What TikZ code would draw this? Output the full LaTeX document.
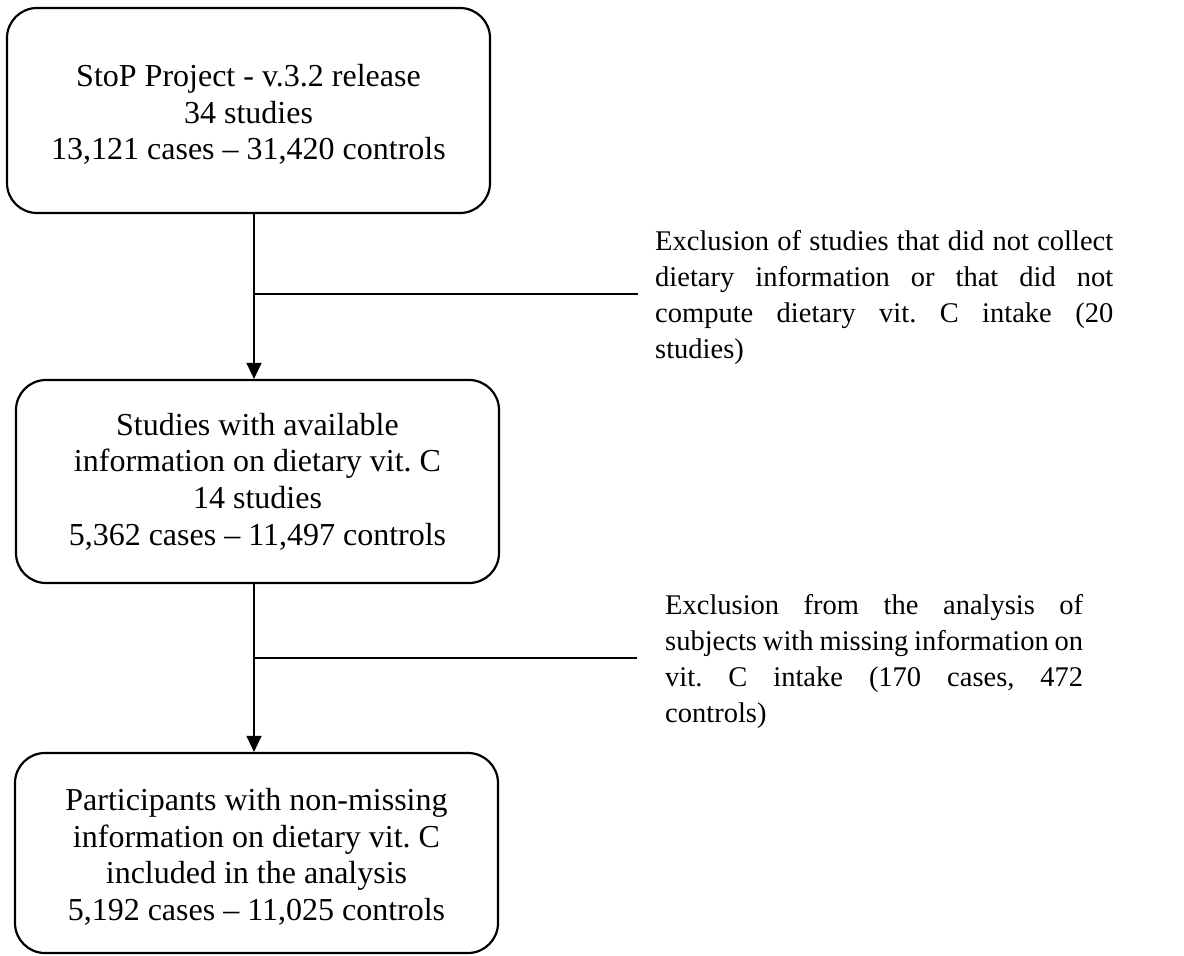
\documentclass[tikz,border=0pt]{standalone}
\usepackage{fontspec}
\setmainfont{Liberation Serif}
\usetikzlibrary{arrows.meta}
\frenchspacing
\begin{document}
\begin{tikzpicture}[x=1pt,y=-1pt,
  flowbox/.style={draw, line width=2.2pt, rounded corners=30pt, minimum width=483pt,
    align=center, inner sep=0pt, font=\fontsize{32}{36.7}\selectfont},
  link/.style={line width=1.3pt},
  arr/.style={link, -{Triangle[length=16pt,width=15pt]}},
  note/.style={inner sep=0pt, anchor=west, font=\fontsize{28.5}{36}\selectfont}]
\useasboundingbox (0,0) rectangle (1184,956);
\node[flowbox, minimum height=205pt] (b1) at (248.5,110.5)
  {\rule{0pt}{30pt}StoP Project - v.3.2 release\\34 studies\\13,121 cases – 31,420 controls};
\node[flowbox, minimum height=203pt] (b2) at (257.5,481.5)
  {Studies with available\\information on dietary vit. C\\14 studies\\5,362 cases – 11,497 controls};
\node[flowbox, minimum height=200pt] (b3) at (256.5,853)
  {\rule{0pt}{30pt}Participants with non-missing\\information on dietary vit. C\\included in the analysis\\5,192 cases – 11,025 controls};
\node[note] (e1) at (655,297)
  {\parbox{458pt}{\fontsize{28.5}{36}\selectfont\frenchspacing Exclusion of studies that did not collect\linebreak dietary information or that did not\linebreak compute dietary vit. C intake (20\linebreak studies)}};
\node[note] (e2) at (665,661)
  {\parbox{418pt}{\fontsize{28.5}{36}\selectfont\frenchspacing Exclusion from the analysis of\linebreak subjects with missing information on\linebreak vit. C intake (170 cases, 472\linebreak controls)}};
\coordinate (j1) at (254,294);
\coordinate (k1) at (638,294);
\coordinate (j2) at (254,658);
\coordinate (k2) at (637,658);
\draw[arr] (b1.south -| j1) -- (b2.north -| j1);
\draw[link] (j1) -- (k1);
\draw[arr] (b2.south -| j2) -- (b3.north -| j2);
\draw[link] (j2) -- (k2);
\end{tikzpicture}
\end{document}
